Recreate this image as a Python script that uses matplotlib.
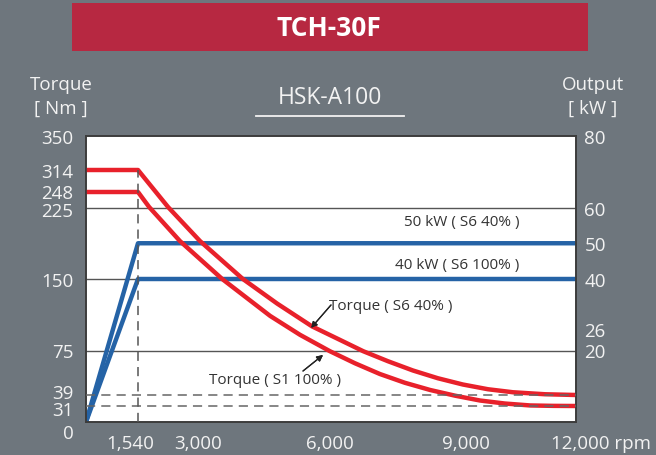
import numpy as np
import matplotlib
matplotlib.use("Agg")
import matplotlib.pyplot as plt
from matplotlib.patches import Rectangle
from matplotlib.lines import Line2D
from matplotlib.transforms import ScaledTranslation

plt.rcParams['font.family'] = ['Open Sans', 'DejaVu Sans']

# torque curves: speed (rpm) / torque (Nm)
rpm_s6 = [0, 1540, 2270, 3045, 4020, 4800, 5590, 6180, 6735, 7280, 7830, 8380, 8930,
          9600, 10280, 11155, 12000]
torque_s6 = [314, 314, 224, 189, 150, 124, 100, 86.6, 74, 66, 58.6, 52.4, 47.4,
             43.6, 41.2, 39.6, 39]
rpm_s1 = [0, 1540, 1810, 2560, 3550, 4640, 5320, 6000, 6550, 7100, 7650, 8210, 8760,
          9380, 10060, 10750, 11370, 12000]
torque_s1 = [248, 248, 224, 189, 150, 111, 91, 74, 64.4, 55.8, 48.8, 43, 38.5,
             35, 32.8, 31.4, 31.1, 31]

# output curves (kW)
rpm_power = [0, 1540, 12000]
power_s6_40 = [0, 50, 50]
power_s6_100 = [0, 40, 40]

x_ticks = [1540, 3000, 6000, 9000, 12000]
x_labels = ["1,540", "3,000", "6,000", "9,000", "12,000 rpm"]
torque_ticks = [0, 31, 39, 75, 150, 225, 248, 314, 350]
power_ticks = [20, 26, 40, 50, 60, 80]
power_grid = [20, 40, 60]

# the chart is not drawn to scale -> piecewise axis scales
rpm_pos = [0, 52, 112, 244, 380, 490]
rpm_anchor = [0, 1540, 3000, 6000, 9000, 12000]
torque_pos = [0, 16, 27, 72, 143, 216, 230, 252, 286]

BG = '#6e767d'
RED = '#e8212b'
BLUE = '#2563a6'
TXT = '#f2f2f2'
DARK = '#333333'

W, H = 656, 456
fig = plt.figure(figsize=(W / 100, H / 100), dpi=100, facecolor=BG)


def px(x, y):
    return x / W, 1 - y / H


ax = fig.add_axes([86 / W, (H - 423) / H, 490 / W, 286 / H])
ax.set_xscale('function', functions=(lambda v: np.interp(v, rpm_anchor, rpm_pos),
                                     lambda v: np.interp(v, rpm_pos, rpm_anchor)))
ax.set_yscale('function', functions=(lambda v: np.interp(v, torque_ticks, torque_pos),
                                     lambda v: np.interp(v, torque_pos, torque_ticks)))
ax.set_xlim(0, 12000)
ax.set_ylim(0, 350)

ax2 = ax.twinx()
ax2.set_ylim(0, 80)
ax.set_zorder(2)
ax.patch.set_visible(False)
ax2.set_zorder(1)
ax2.patch.set_facecolor('white')
ax2.patch.set_visible(True)

# grid + output lines (kW axis)
for g in power_grid:
    ax2.axhline(g, color='#555555', lw=1.0, zorder=1)
ax2.plot(rpm_power, power_s6_40, color=BLUE, lw=3.2, solid_capstyle='butt', zorder=2)
ax2.plot(rpm_power, power_s6_100, color=BLUE, lw=3.2, solid_capstyle='butt', zorder=2)

# torque curves
ax.plot(rpm_s6, torque_s6, color=RED, lw=3.2, solid_capstyle='butt', solid_joinstyle='round', zorder=2)
ax.plot(rpm_s1, torque_s1, color=RED, lw=3.2, solid_capstyle='butt', solid_joinstyle='round', zorder=2)

# dashed guides
ax.axhline(torque_s6[-1], color='#666666', lw=1.1, dashes=(6, 4), zorder=3)
ax.axhline(torque_s1[-1], color='#666666', lw=1.1, dashes=(6, 4), zorder=3)
ax.vlines(rpm_s6[1], 0, torque_s6[1], color='#555555', lw=1.1, linestyles=(0, (6, 4)), zorder=3)

for a in (ax, ax2):
    for s in a.spines.values():
        s.set_color('#3c3c3c')
        s.set_linewidth(1.2)

ax.set_xticks(x_ticks)
ax.set_xticklabels(x_labels)
ax.set_yticks(torque_ticks)
ax.set_yticklabels([str(t) for t in torque_ticks])
ax2.set_yticks(power_ticks)
ax2.set_yticklabels([str(p) for p in power_ticks])
ax.minorticks_off()
ax.tick_params(axis='x', length=0, pad=9, labelsize=13.5, labelcolor=TXT)
ax.tick_params(axis='y', length=0, pad=9, labelsize=13.5, labelcolor=TXT)
ax2.tick_params(axis='y', length=0, pad=6, labelsize=13.5, labelcolor=TXT)


def shift(label, dx, dy):
    label.set_transform(label.get_transform() + ScaledTranslation(dx / 100, dy / 100, fig.dpi_scale_trans))


xl = ax.get_xticklabels()
shift(xl[0], -8, 0)
shift(xl[-1], 25, 0)
yl = ax.get_yticklabels()
shift(yl[0], 0, -9)   # 0
shift(yl[1], 0, -2)   # 31
shift(yl[2], 0, 4)    # 39
shift(yl[5], 0, -3)   # 225
shift(yl[6], 0, 1)    # 248

# header
fig.patches.append(Rectangle(px(72, 52), 516 / W, 48 / H, transform=fig.transFigure,
                             facecolor='#b72841', edgecolor='none'))
fig.text(*px(329, 29), "TCH-30F", color='white', fontsize=19, fontweight='bold',
         ha='center', va='center')
fig.text(*px(330, 98), "HSK-A100", color=TXT, fontsize=16.5, ha='center', va='center')
fig.add_artist(Line2D([256 / W, 404 / W], [1 - 117 / H, 1 - 117 / H], color=TXT, lw=1.3,
                      transform=fig.transFigure))
fig.text(*px(61, 85), "Torque", color=TXT, fontsize=13.5, ha='center', va='center')
fig.text(*px(61, 109), "[ Nm ]", color=TXT, fontsize=13.5, ha='center', va='center')
fig.text(*px(593, 85), "Output", color=TXT, fontsize=13.5, ha='center', va='center')
fig.text(*px(593, 109), "[ kW ]", color=TXT, fontsize=13.5, ha='center', va='center')

# curve labels
fig.text(*px(462, 223), "50 kW ( S6 40% )", color=DARK, fontsize=11, ha='center', va='center', zorder=5)
fig.text(*px(457, 266), "40 kW ( S6 100% )", color=DARK, fontsize=11, ha='center', va='center', zorder=5)
fig.text(*px(329, 307), "Torque ( S6 40% )", color=DARK, fontsize=11, ha='left', va='center', zorder=5)
fig.text(*px(209, 380), "Torque ( S1 100% )", color=DARK, fontsize=11, ha='left', va='center', zorder=5)

arrow = dict(arrowstyle='-|>', color='#222222', lw=0.9, mutation_scale=9, shrinkA=0, shrinkB=0)
fig.add_artist(plt.annotate('', xy=px(311, 329), xytext=px(331, 306), xycoords='figure fraction',
                            textcoords='figure fraction', arrowprops=arrow))
fig.add_artist(plt.annotate('', xy=px(323, 356), xytext=px(303, 372), xycoords='figure fraction',
                            textcoords='figure fraction', arrowprops=arrow))

fig.savefig("out.png", dpi=100, facecolor=BG)
